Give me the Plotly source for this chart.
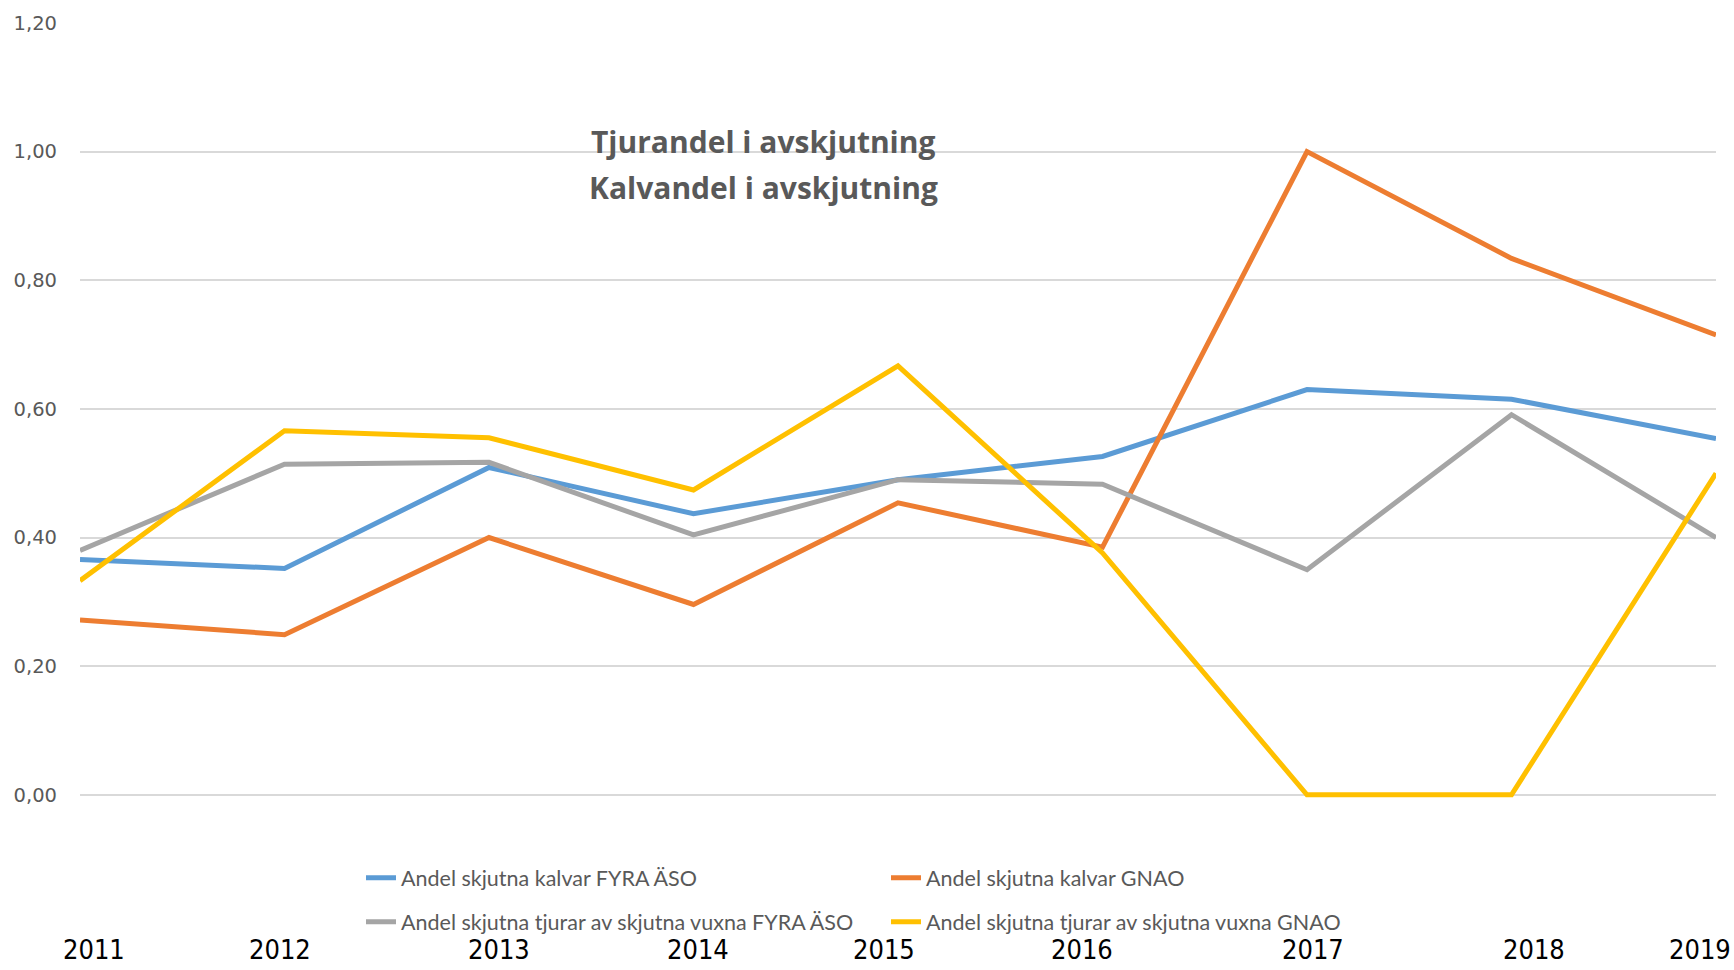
import plotly.graph_objects as go

years = [2011, 2012, 2013, 2014, 2015, 2016, 2017, 2018, 2019]
kalvar_fyra = [0.366, 0.352, 0.509, 0.437, 0.490, 0.526, 0.630, 0.615, 0.554]
kalvar_gnao = [0.272, 0.249, 0.400, 0.296, 0.454, 0.385, 1.000, 0.834, 0.715]
tjurar_fyra = [0.380, 0.514, 0.517, 0.404, 0.490, 0.483, 0.350, 0.591, 0.400]
tjurar_gnao = [0.333, 0.566, 0.555, 0.474, 0.667, 0.376, 0.000, 0.000, 0.500]

names = [
    "Andel skjutna kalvar FYRA ÄSO",
    "Andel skjutna kalvar GNAO",
    "Andel skjutna tjurar av skjutna vuxna FYRA ÄSO",
    "Andel skjutna tjurar av skjutna vuxna GNAO",
]
title_lines = ["Tjurandel i avskjutning", "Kalvandel i avskjutning"]
year_labels = ["2011", "2012", "2013", "2014", "2015", "2016", "2017", "2018", "2019"]

# layout-only: where the year labels sit (x in data units)
year_label_x = [2011.07, 2011.98, 2013.05, 2014.02, 2014.93, 2015.90, 2017.03, 2018.11, 2018.92]

colors = ["#5B9BD5", "#ED7D31", "#A5A5A5", "#FFC000"]
series = [kalvar_fyra, kalvar_gnao, tjurar_fyra, tjurar_gnao]
legends = ["legend", "legend", "legend2", "legend2"]

W, H = 1734, 970
L, R, T = 80, 18, 23
ymin, ymax = -0.12, 1.2
px_per_unit = (795 - 23) / 1.2
plot_h = (ymax - ymin) * px_per_unit
B = H - T - plot_h


def row_y(py):
    bottom = T + plot_h
    return (bottom - py) / plot_h


fig = go.Figure()
for s, n, c, lg in zip(series, names, colors, legends):
    fig.add_trace(go.Scatter(
        x=years, y=s, name=n, mode="lines",
        line=dict(color=c, width=5),
        legend=lg,
    ))

annotations = []
for i, t in enumerate(title_lines):
    annotations.append(dict(
        text="<b>%s</b>" % t, xref="paper", yref="y",
        x=(763 - L) / (W - L - R), y=[1.015, 0.945][i],
        showarrow=False, xanchor="center", yanchor="middle",
        font=dict(family="Open Sans", size=30, color="#595959"),
    ))
for xl, t in zip(year_label_x, year_labels):
    annotations.append(dict(
        text=t, xref="x", yref="paper", x=xl, y=row_y(950),
        showarrow=False, xanchor="center", yanchor="middle",
        font=dict(family="DejaVu Sans Condensed", size=27, color="#000000"),
    ))

legend_common = dict(
    orientation="h", xanchor="left", yanchor="middle",
    x=(361 - L) / (W - L - R), entrywidth=480, entrywidthmode="pixels",
    font=dict(family="Lato", size=21.5, color="#595959"),
    bgcolor="rgba(0,0,0,0)", itemwidth=30, tracegroupgap=0,
)

fig.update_layout(
    width=W, height=H,
    margin=dict(l=L, r=R, t=T, b=B, autoexpand=False),
    paper_bgcolor="white", plot_bgcolor="white",
    separators=", ",
    showlegend=True,
    legend=dict(legend_common, y=row_y(878)),
    legend2=dict(legend_common, y=row_y(922)),
    xaxis=dict(range=[2011, 2019], showgrid=False, showticklabels=False,
               zeroline=False, showline=False, ticks=""),
    yaxis=dict(range=[ymin, ymax], tick0=0, dtick=0.2, tickformat=".2f",
               showgrid=True, gridcolor="#D9D9D9", gridwidth=1.5,
               zeroline=False, showline=False, ticks="",
               ticklabelstandoff=22,
               tickfont=dict(family="DejaVu Sans", size=19.5, color="#595959")),
    annotations=annotations,
)

fig.write_html("out.html", config={"displayModeBar": False},
               post_script="document.body.style.margin='0';document.body.style.overflow='hidden';")
